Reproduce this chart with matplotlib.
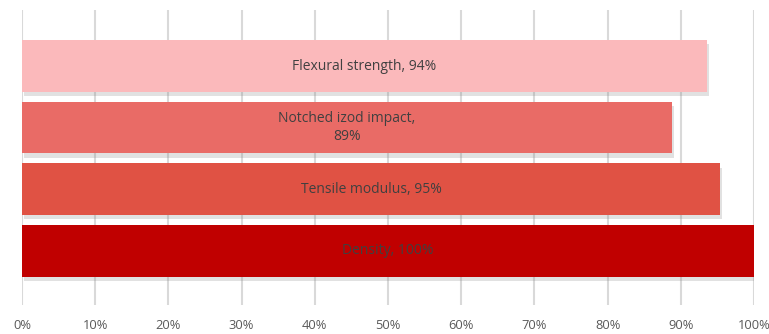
import matplotlib.pyplot as plt
import matplotlib.patheffects as pe
from matplotlib.ticker import PercentFormatter

# data (top to bottom)
categories = ['Flexural strength', 'Notched izod impact', 'Tensile modulus', 'Density']
values = [93.6, 88.8, 95.4, 100.0]
label_sep = [', ', ',\n', ', ', ', ']
colors = ['#FBB9BB', '#E96B66', '#E05244', '#C00000']

plt.rcParams['font.family'] = ['Open Sans', 'DejaVu Sans']

fig = plt.figure(figsize=(7.69, 3.34), dpi=100)
ax = fig.add_axes([22 / 769, 29 / 334, 732 / 769, 295 / 334])

pos = list(range(len(categories)))
bars = ax.barh(pos, values, height=0.84, color=colors, zorder=3)
# soft drop shadow
for b in bars:
    b.set_path_effects([pe.SimplePatchShadow(offset=(1.5, -3), shadow_rgbFace='#888888', alpha=0.25),
                        pe.Normal()])

for p, cat, v, sep in zip(pos, categories, values, label_sep):
    ax.text(v / 2, p, f'{cat}{sep}{v:.0f}%', ha='center', va='center',
            fontsize=10, color='#404040', zorder=4, linespacing=1.3)

ax.set_xlim(0, 100)
ax.set_ylim(3.88, -0.91)
ax.set_xticks(range(0, 101, 10))
ax.xaxis.set_major_formatter(PercentFormatter(decimals=0))
ax.set_yticks([])
ax.tick_params(axis='x', length=0, labelsize=9.3, labelcolor='#595959', pad=10)
ax.grid(axis='x', color='#D9D9D9', linewidth=1.5, zorder=0)
for s in ax.spines.values():
    s.set_visible(False)

fig.savefig('out.png', dpi=100)
